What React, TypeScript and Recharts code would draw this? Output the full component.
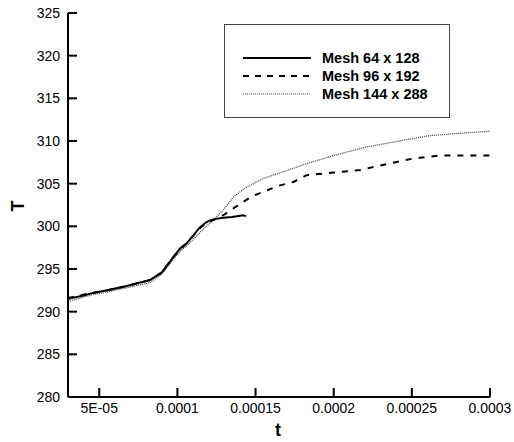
import React from 'react';
import { LineChart, Line, XAxis, YAxis } from 'recharts';

const FONT = '"Liberation Sans", Arial, Helvetica, sans-serif';

// time (s) and temperature samples per mesh
const tCoarse = [3e-5, 4e-5, 4.6e-5, 5.5e-5, 6.75e-5, 8.25e-5, 9e-5, 9.74e-5, 1.017e-4, 1.059e-4, 1.145e-4, 1.187e-4, 1.209e-4, 1.251e-4, 1.294e-4, 1.35e-4, 1.42e-4, 1.44e-4];
const TCoarse = [291.5, 291.9, 292.2, 292.5, 293.0, 293.7, 294.6, 296.4, 297.4, 298.0, 299.9, 300.5, 300.7, 300.9, 301.0, 301.1, 301.3, 301.2];

const tMedium = [3e-5, 4e-5, 4.6e-5, 5.5e-5, 6.75e-5, 8.25e-5, 9e-5, 9.74e-5, 1.017e-4, 1.059e-4, 1.145e-4, 1.187e-4, 1.251e-4, 1.294e-4, 1.39e-4, 1.475e-4, 1.57e-4, 1.656e-4, 1.742e-4, 1.827e-4, 2.0e-4, 2.17e-4, 2.34e-4, 2.51e-4, 2.68e-4, 3.0e-4];
const TMedium = [291.6, 292.0, 292.2, 292.5, 293.0, 293.7, 294.6, 296.4, 297.3, 298.0, 299.8, 300.4, 300.9, 301.3, 302.5, 303.5, 304.2, 304.8, 305.2, 306.0, 306.3, 306.6, 307.3, 307.95, 308.3, 308.3];

const tFine = [3e-5, 4e-5, 4.6e-5, 5.5e-5, 6.75e-5, 8.25e-5, 9e-5, 9.74e-5, 1.017e-4, 1.059e-4, 1.145e-4, 1.209e-4, 1.294e-4, 1.357e-4, 1.443e-4, 1.549e-4, 1.742e-4, 1.8e-4, 2.0e-4, 2.21e-4, 2.45e-4, 2.6e-4, 2.8e-4, 3.0e-4];
const TFine = [291.2, 291.7, 292.0, 292.3, 292.8, 293.4, 294.4, 296.1, 297.1, 297.7, 299.3, 300.4, 301.9, 303.45, 304.6, 305.6, 306.8, 307.2, 308.3, 309.3, 310.1, 310.6, 310.9, 311.15];

const seriesNames = ['Mesh 64 x 128', 'Mesh 96 x 192', 'Mesh 144 x 288'];

const xMajorTicks = [5e-5, 1e-4, 1.5e-4, 2e-4, 2.5e-4, 3e-4];
const xMajorLabels = ['5E-05', '0.0001', '0.00015', '0.0002', '0.00025', '0.0003'];
const yMajorTicks = [280, 285, 290, 295, 300, 305, 310, 315, 320, 325];

// minor ticks every 1e-5 on t, every 1 K on T
const xMinorTicks = Array.from({ length: 28 }, (_, i) => (i + 3) * 1e-5);
const yMinorTicks = Array.from({ length: 46 }, (_, i) => 280 + i);

const zip = (ts: number[], Ts: number[]) => ts.map((t, i) => ({ t, T: Ts[i] }));
const coarse = zip(tCoarse, TCoarse);
const medium = zip(tMedium, TMedium);
const fine = zip(tFine, TFine);

const X_DOMAIN = [3e-5, 3e-4];
const Y_DOMAIN = [280, 325];
const MAJOR = 9;
const MINOR = 5;

// axes are mirrored so the native tick lines point into the plot;
// labels are placed back outside the frame
const XLabel = (props: any) => {
  const i = xMajorTicks.findIndex((v) => Math.abs(v - props.payload.value) < 1e-9);
  return (
    <text x={props.x} y={Number(props.y) + MAJOR + 16} textAnchor="middle" fontSize={14} fontFamily={FONT} fill="#000">
      {xMajorLabels[i]}
    </text>
  );
};

const YLabel = (props: any) => (
  <text x={Number(props.x) - MAJOR - 8} y={Number(props.y) + 5} textAnchor="end" fontSize={14} fontFamily={FONT} fill="#000">
    {props.payload.value}
  </text>
);

const NoLabel = () => <g />;

const legendStyles = [
  { stroke: '#000', width: 2, dash: undefined },
  { stroke: '#000', width: 2, dash: '6 6' },
  { stroke: '#444', width: 1.2, dash: '1 1' },
];

const LegendBox = () => (
  <div
    style={{
      position: 'absolute',
      left: 224,
      top: 24,
      width: 226,
      height: 94,
      border: '1px solid #444',
      boxSizing: 'border-box',
    }}
  >
    {seriesNames.map((name, i) => (
      <div
        key={name}
        style={{ position: 'absolute', left: 17, top: 24 + i * 18, height: 18, display: 'flex', alignItems: 'center' }}
      >
        <svg width={70} height={18}>
          <line x1={1} x2={69} y1={9} y2={9} stroke={legendStyles[i].stroke} strokeWidth={legendStyles[i].width} strokeDasharray={legendStyles[i].dash} />
        </svg>
        <span style={{ marginLeft: 10, fontFamily: FONT, fontWeight: 'bold', fontSize: 14.5, color: '#000', whiteSpace: 'nowrap' }}>{name}</span>
      </div>
    ))}
  </div>
);

const titleStyle: React.CSSProperties = {
  position: 'absolute',
  fontFamily: FONT,
  fontWeight: 'bold',
  fontSize: 18,
  lineHeight: '18px',
  color: '#000',
};

const tickStroke = { stroke: '#000', strokeWidth: 2 };

export default function App() {
  return (
    <div style={{ position: 'absolute', left: 0, top: 0, width: 514, height: 442 }}>
      <LineChart width={514} height={442} margin={{ top: 13, right: 24, bottom: 45, left: 68 }}>
        <XAxis
          dataKey="t"
          type="number"
          domain={X_DOMAIN}
          ticks={xMajorTicks}
          interval={0}
          mirror
          tickSize={MAJOR}
          tickMargin={0}
          tickLine={tickStroke}
          tick={XLabel}
          height={1}
          axisLine={{ stroke: '#000', strokeWidth: 2 }}
        />
        <XAxis
          xAxisId="minor"
          dataKey="t"
          type="number"
          domain={X_DOMAIN}
          ticks={xMinorTicks}
          interval={0}
          mirror
          tickSize={MINOR}
          tickMargin={0}
          tickLine={tickStroke}
          tick={NoLabel}
          height={1}
          axisLine={false}
        />
        <YAxis
          type="number"
          domain={Y_DOMAIN}
          ticks={yMajorTicks}
          interval={0}
          mirror
          tickSize={MAJOR}
          tickMargin={0}
          tickLine={tickStroke}
          tick={YLabel}
          width={1}
          axisLine={{ stroke: '#000', strokeWidth: 2 }}
        />
        <YAxis
          yAxisId="minor"
          type="number"
          domain={Y_DOMAIN}
          ticks={yMinorTicks}
          interval={0}
          mirror
          tickSize={MINOR + 1}
          tickMargin={0}
          tickLine={tickStroke}
          tick={NoLabel}
          width={1}
          axisLine={false}
        />
        <Line data={fine} dataKey="T" name={seriesNames[2]} type="linear" stroke="#444" strokeWidth={1.3} strokeDasharray="1 1" dot={false} isAnimationActive={false} />
        <Line data={medium} dataKey="T" name={seriesNames[1]} type="linear" stroke="#000" strokeWidth={2} strokeDasharray="6 7" dot={false} isAnimationActive={false} />
        <Line data={coarse} dataKey="T" name={seriesNames[0]} type="linear" stroke="#000" strokeWidth={2} dot={false} isAnimationActive={false} />
      </LineChart>
      <LegendBox />
      <div style={{ ...titleStyle, left: 275, top: 421 }}>t</div>
      <div style={{ ...titleStyle, left: 12, top: 197, transform: 'rotate(-90deg)' }}>T</div>
    </div>
  );
}
